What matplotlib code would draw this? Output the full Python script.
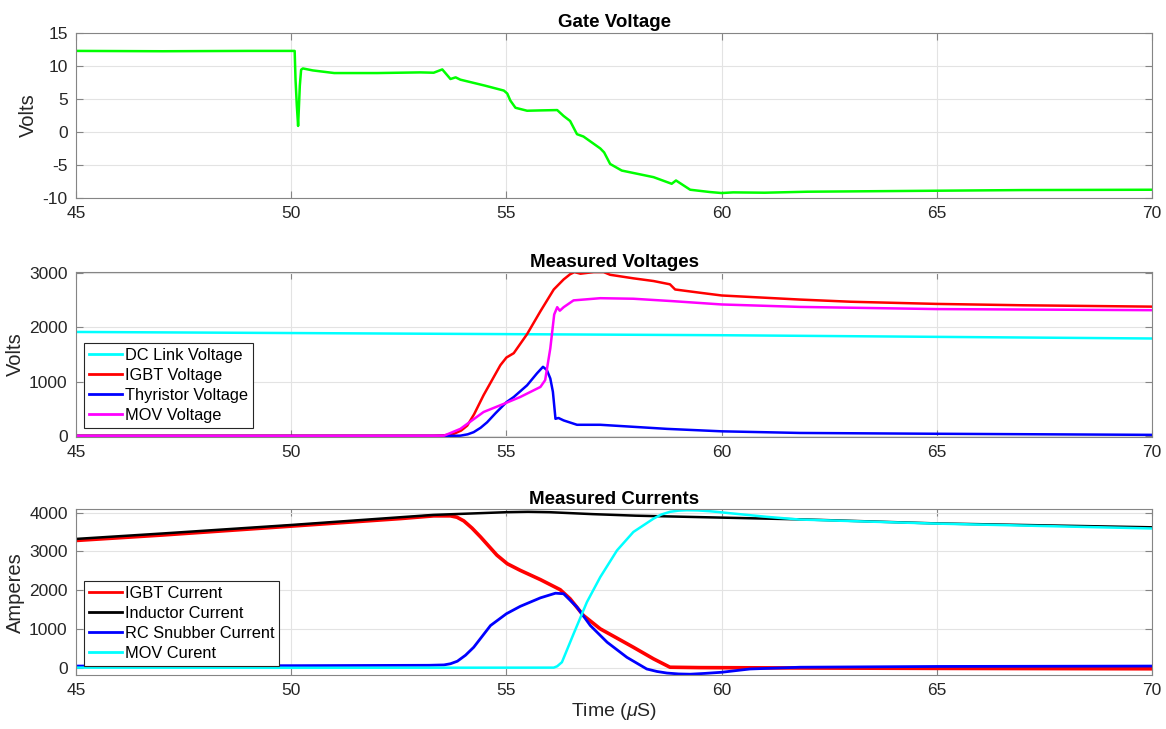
import matplotlib
matplotlib.use('Agg')
import matplotlib.pyplot as plt
import numpy as np

plt.rcParams['font.family'] = ['Liberation Sans', 'DejaVu Sans']
plt.rcParams['mathtext.fontset'] = 'custom'
plt.rcParams['mathtext.it'] = 'Liberation Sans:italic'
plt.rcParams['mathtext.rm'] = 'Liberation Sans'
plt.rcParams['axes.unicode_minus'] = False

# ---- Gate voltage ----
t_gate = [45, 47, 49, 50.08, 50.10, 50.13, 50.16, 50.20, 50.23, 50.27, 50.5, 51, 52, 53, 53.31,
          53.51, 53.70, 53.82, 53.93, 54.5, 54.94, 55.02, 55.09, 55.21, 55.48, 55.79, 56.18,
          56.33, 56.48, 56.64, 56.79, 57.18, 57.27, 57.41, 57.68, 58.42, 58.84, 58.94, 59.27,
          59.73, 60.0, 60.27, 61, 62, 63, 65, 67, 70]
v_gate = [12.25, 12.2, 12.25, 12.25, 7.9, 4.0, 0.9, 7.0, 9.4, 9.6, 9.3, 8.9, 8.9, 9.0, 8.95,
          9.45, 8.0, 8.25, 7.9, 7.0, 6.25, 5.8, 4.75, 3.65, 3.2, 3.25, 3.3,
          2.4, 1.65, -0.35, -0.7, -2.5, -3.1, -4.85, -5.85, -6.85, -7.85, -7.35, -8.75,
          -9.1, -9.25, -9.15, -9.2, -9.05, -9.0, -8.9, -8.8, -8.75]

# ---- Measured voltages ----
t_dc = [45, 50, 55, 60, 65, 70]
v_dc = [1910, 1890, 1870, 1850, 1820, 1790]

t_igbt_v = [45, 50, 53.31, 53.55, 53.78, 53.95, 54.09, 54.25, 54.47, 54.86, 55.0, 55.17, 55.48,
            55.79, 56.1, 56.33, 56.48, 56.58, 56.72, 57.03, 57.26, 57.41, 57.95, 58.42, 58.8,
            58.92, 59.5, 60.0, 61.82, 63, 65, 67, 70]
v_igbt_v = [5, 5, 5, 10, 40, 100, 190, 400, 750, 1300, 1440, 1520, 1870,
            2290, 2690, 2875, 2970, 3010, 2980, 3010, 3010, 2960, 2895, 2845, 2785,
            2690, 2630, 2580, 2505, 2465, 2425, 2400, 2375]

t_thy = [45, 50, 53.5, 53.93, 54.1, 54.24, 54.4, 54.55, 54.75, 55.0, 55.17, 55.48, 55.71,
         55.85, 55.94, 56.02, 56.08, 56.14, 56.21, 56.33, 56.64, 57.18, 58.73, 60.0, 61.82,
         65, 70]
v_thy = [0, 0, 0, 5, 30, 70, 150, 250, 420, 620, 715, 930, 1150,
         1270, 1210, 1055, 810, 315, 330, 285, 205, 205, 130, 85, 55,
         40, 20]

t_mov_v = [45, 50, 53.3, 53.55, 53.93, 54.47, 54.94, 55.32, 55.79, 55.9, 56.02, 56.11, 56.18,
           56.24, 56.33, 56.56, 57.18, 57.95, 58.88, 60.0, 61.82, 65, 70]
v_mov_v = [0, 0, 3, 5, 130, 440, 590, 715, 900, 1025, 1610, 2230, 2365,
           2300, 2365, 2490, 2530, 2520, 2475, 2415, 2370, 2330, 2310]

# ---- Measured currents ----
t_igbt_i = [45, 47, 50, 52.54, 53.31, 53.70, 53.85, 54.01, 54.2, 54.4, 54.78, 55.02, 55.32,
            55.79, 56.25, 56.48, 56.79, 57.18, 57.57, 57.95, 58.42, 58.8, 59.5, 62, 65, 70]
i_igbt = [3280, 3420, 3650, 3845, 3915, 3915, 3880, 3785, 3600, 3370, 2900, 2680, 2510,
          2270, 2010, 1775, 1345, 1000, 760, 525, 225, 10, 0, -10, -20, -30]

t_ind = [45, 47, 50, 53.3, 55, 55.5, 56, 57, 58, 60, 62, 65, 70]
i_ind = [3320, 3460, 3680, 3940, 4010, 4020, 4010, 3960, 3920, 3870, 3820, 3720, 3620]

t_rc = [45, 50, 53.2, 53.55, 53.7, 53.86, 54.05, 54.24, 54.63, 55.0, 55.32, 55.79, 56.14,
        56.33, 56.64, 56.95, 57.34, 57.8, 58.26, 58.5, 58.73, 59.0, 59.27, 59.6, 60.0, 60.66,
        61.82, 65, 70]
i_rc = [40, 50, 60, 70, 100, 165, 320, 525, 1085, 1390, 1580, 1800, 1920,
        1905, 1560, 1085, 655, 265, -35, -100, -140, -163, -170, -150, -120, -35,
        10, 30, 40]

t_mov_i = [45, 50, 56.1, 56.18, 56.29, 56.56, 56.87, 57.18, 57.57, 57.95, 58.42, 58.6, 58.8,
           59.0, 59.19, 59.45, 59.73, 60.27, 61.05, 61.82, 65, 70]
i_mov = [0, -5, 0, 35, 140, 870, 1690, 2335, 3025, 3500, 3845, 3950, 4020,
         4050, 4060, 4055, 4035, 3975, 3890, 3820, 3715, 3590]

fig = plt.figure(figsize=(11.66, 7.29), dpi=100)
left, width = 0.0652, 0.9228
ax1 = fig.add_axes([left, 0.7284, width, 0.2267])
ax2 = fig.add_axes([left, 0.4005, width, 0.2263])
ax3 = fig.add_axes([left, 0.0741, width, 0.2273])

def style(ax):
    ax.set_xlim(45, 70)
    ax.set_xticks([45, 50, 55, 60, 65, 70])
    ax.grid(True, color='#e3e3e3', linewidth=0.8)
    ax.set_axisbelow(True)
    for s in ax.spines.values():
        s.set_color('#858585')
        s.set_linewidth(0.8)
    ax.tick_params(direction='in', top=True, right=True, length=5, width=0.8,
                   color='#858585', labelcolor='#262626', labelsize=12.5, pad=6)

ax1.plot(t_gate, v_gate, color='#00ff00', lw=1.8)
ax1.set_ylim(-10, 15)
ax1.set_yticks([-10, -5, 0, 5, 10, 15])
ax1.set_ylabel('Volts', fontsize=14.5, color='#262626', labelpad=3)
ax1.set_title('Gate Voltage', fontsize=13.5, fontweight='bold', pad=4)
style(ax1)

ax2.plot(t_dc, v_dc, color='#00ffff', lw=1.8, label='DC Link Voltage')
ax2.plot(t_igbt_v, v_igbt_v, color='#ff0000', lw=1.8, label='IGBT Voltage')
ax2.plot(t_thy, v_thy, color='#0000ff', lw=1.8, label='Thyristor Voltage')
ax2.plot(t_mov_v, v_mov_v, color='#ff00ff', lw=1.8, label='MOV Voltage')
ax2.set_ylim(-20, 3010)
ax2.set_yticks([0, 1000, 2000, 3000])
ax2.set_ylabel('Volts', fontsize=14.5, color='#262626', labelpad=3)
ax2.set_title('Measured Voltages', fontsize=13.5, fontweight='bold', pad=4)
style(ax2)

ax3.plot(t_igbt_i, i_igbt, color='#ff0000', lw=2.6, label='IGBT Current')
ax3.plot(t_ind, i_ind, color='#000000', lw=1.8, label='Inductor Current')
ax3.plot(t_rc, i_rc, color='#0000ff', lw=2.0, label='RC Snubber Current')
ax3.plot(t_mov_i, i_mov, color='#00ffff', lw=1.8, label='MOV Curent')
ax3.set_ylim(-190, 4085)
ax3.set_yticks([0, 1000, 2000, 3000, 4000])
ax3.set_ylabel('Amperes', fontsize=14.5, color='#262626', labelpad=3)
ax3.set_xlabel(r'Time ($\mu$S)', fontsize=14, color='#262626', labelpad=2)
ax3.set_title('Measured Currents', fontsize=13.5, fontweight='bold', pad=4)
style(ax3)

for ax in (ax2, ax3):
    leg = ax.legend(loc='lower left', bbox_to_anchor=(0.0074, 0.056), fontsize=11.8,
                    fancybox=False, framealpha=1, edgecolor='#262626',
                    handlelength=2.0, handletextpad=0.2, labelspacing=0.3,
                    borderpad=0.3, borderaxespad=0)
    leg.get_frame().set_linewidth(0.8)
    for line in leg.get_lines():
        line.set_linewidth(2.0)

fig.savefig('out.png', dpi=100)
